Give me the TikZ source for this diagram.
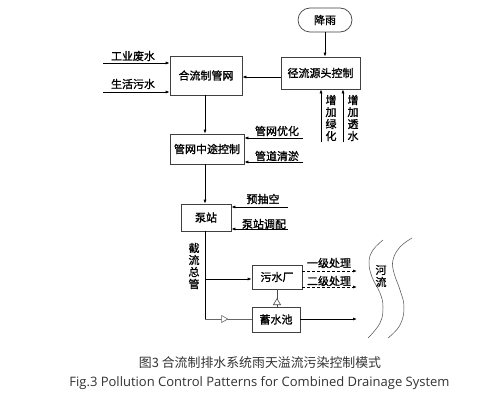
\documentclass[tikz,border=0pt]{standalone}
\usepackage{fontspec}
\setmainfont{Liberation Serif}
\newfontfamily\cjk{Noto Sans CJK SC}
\newfontfamily\cjkb{Noto Sans CJK SC}[FakeBold=1.2]
\newfontfamily\capen{Open Sans}
\usetikzlibrary{arrows.meta,decorations.markings}
\definecolor{capc}{HTML}{333333}
\begin{document}
\begin{tikzpicture}[x=1pt,y=-1pt,
  box/.style={draw=black!75, line width=0.7pt, inner sep=0pt, font=\cjkb\fontsize{11}{12}\selectfont},
  lbl/.style={font=\cjkb\fontsize{11}{12}\selectfont, inner sep=0pt},
  vlbl/.style={font=\cjkb\fontsize{11}{12}\selectfont, inner sep=0pt, align=center},
  arr/.style={-{Latex[length=4pt,width=3pt]}, line width=0.7pt},
  ln/.style={line width=0.7pt},
  darr/.style={arr, densely dashed},
  tri/.style={postaction={decorate}, decoration={markings, mark=at position 0.5 with {\arrow{Triangle[length=7pt,width=8pt,fill=white,line width=0.6pt]}}}}
]
\path[fill=white,use as bounding box] (0,0) rectangle (494,404);

% boxes
\node[box, rounded corners=12pt, minimum width=54pt, minimum height=24pt] (rain) at (325,20) {降雨};
\node[box, minimum width=79pt, minimum height=32pt] (src) at (320.5,73) {径流源头控制};
\node[box, minimum width=72pt, minimum height=39pt] (comb) at (206,75.5) {合流制管网};
\node[box, minimum width=74pt, minimum height=30pt] (mid) at (207,149) {管网中途控制};
\node[box, minimum width=50pt, minimum height=27pt] (pump) at (206,217.5) {泵站};
\node[box, minimum width=50pt, minimum height=24pt] (plant) at (277,277) {污水厂};
\node[box, minimum width=48pt, minimum height=25pt] (tank) at (276,319.5) {蓄水池};

% labels
\node[lbl] (l1) at (133,56) {工业废水};
\node[lbl] (l2) at (133,84) {生活污水};
\node[vlbl] (l3) at (331,118) {增\\加\\绿\\化};
\node[vlbl] (l4) at (353,118) {增\\加\\透\\水};
\node[lbl] (l5) at (277,131) {管网优化};
\node[lbl] (l6) at (277,156) {管道清淤};
\node[lbl] (l7) at (263,199) {预抽空};
\node[lbl] (l8) at (264,224) {泵站调配};
\node[vlbl] (l9) at (194,266) {截\\流\\总\\管};
\node[lbl] (l10) at (329,263) {一级处理};
\node[lbl] (l11) at (329,281) {二级处理};
\node[vlbl] (l12) at (381,276) {河\\流};

% free ends
\coordinate (iw) at (103,63);
\coordinate (dw) at (103,92);
\coordinate (g1) at (321,142);
\coordinate (g2) at (343,142);
\coordinate (o1) at (303,138);
\coordinate (o2) at (303,162);
\coordinate (p1) at (288,207);
\coordinate (p2) at (288,229);
\coordinate (jn) at (205,279);
\coordinate (bl) at (205,319);
\coordinate (e1) at (357,271);
\coordinate (e2) at (357,287);
\coordinate (e3) at (357,319);

% connectors
\draw[arr] (rain.south) -- (rain.south |- src.north);
\draw[arr] (src.west |- 0,77) -- (comb.east |- 0,77);
\draw[arr] (iw) -- (iw -| comb.west);
\draw[arr] (dw) -- (dw -| comb.west);
\draw[arr] (g1) -- (g1 |- src.south);
\draw[arr] (g2) -- (g2 |- src.south);
\draw[arr] (comb.south -| 0:205pt) -- (mid.north -| 0:205pt);
\draw[arr] (o1) -- (o1 -| mid.east);
\draw[arr] (o2) -- (o2 -| mid.east);
\draw[arr] (mid.south -| 0:205pt) -- (pump.north -| 0:205pt);
\draw[arr] (p1) -- (p1 -| pump.east);
\draw[arr] (p2) -- (p2 -| pump.east);
\draw[ln] (pump.south -| jn) -- (bl);
\draw[arr] (jn) -- (jn -| plant.west);
\draw[ln, black!60, tri] (bl) -- (tank.west |- bl);
\draw[ln, black!70, tri] (tank.north -| plant.south) -- (plant.south);
\draw[darr] (plant.east |- e1) -- (e1);
\draw[darr] (plant.east |- e2) -- (e2);
\draw[arr] (tank.east |- e3) -- (e3);

% river
\draw[line width=0.5pt, black!70] plot[smooth, tension=0.7] coordinates {(383,240) (373,250) (369,262) (372,277) (380,293) (383,307) (380,323) (368,338)};
\draw[line width=0.5pt, black!70] plot[smooth, tension=0.7] coordinates {(412,238) (400,247) (393,260) (394,273) (400,290) (404,307) (400,325) (388,338)};

% caption
\node[font=\cjk\fontsize{12.9}{14}\selectfont, text=capc, inner sep=0pt] (cap1) at (260,363) {图3 合流制排水系统雨天溢流污染控制模式};
\node[font=\capen\fontsize{13}{15}\selectfont, text=capc, inner sep=0pt] (cap2) at (259.5,383) {Fig.3 Pollution Control Patterns for Combined Drainage System};
\end{tikzpicture}
\end{document}
